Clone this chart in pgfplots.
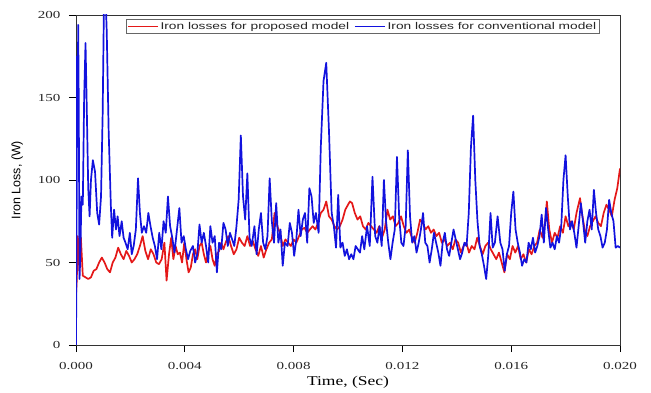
\documentclass[border=0pt]{standalone}
\usepackage{pgfplots}
\pgfplotsset{compat=1.18}
\usepackage{pgfplotstable}
\usepackage{fontspec}
\setmainfont{Liberation Serif}
\setsansfont{Liberation Sans}
\newfontfamily\tickfont[FakeStretch=1.4]{Liberation Serif}
\newfontfamily\xlabfont[FakeStretch=1.3]{Liberation Serif}
\newfontfamily\legfont[FakeStretch=1.4]{Liberation Sans}

\definecolor{lossred}{RGB}{228,24,24}
\definecolor{lossblue}{RGB}{18,18,222}

% time t in ms, iron loss v in W
\pgfplotstableread{
t v
0.00 30
0.03 40
0.06 66
0.09 62
0.12 45
0.18 65
0.25 42
0.35 41
0.45 40
0.55 41
0.65 45
0.75 46
0.85 50
0.95 53
1.05 50
1.15 46
1.25 44
1.35 50
1.45 53
1.55 59
1.65 55
1.75 52
1.85 57
1.95 54
2.05 50
2.15 52
2.25 55
2.35 60
2.45 66
2.55 57
2.65 52
2.75 58
2.85 55
2.95 50
3.05 49
3.15 52
3.25 62
3.33 39
3.42 55
3.50 65
3.58 52
3.66 60
3.74 55
3.82 56
3.90 50
3.98 62
4.06 52
4.14 44
4.22 47
4.30 55
4.38 58
4.46 52
4.54 60
4.62 62
4.70 55
4.78 50
4.86 56
4.94 60
5.02 52
5.10 48
5.18 55
5.26 57
5.34 62
5.42 58
5.50 62
5.60 66
5.70 60
5.80 55
5.90 58
6.00 65
6.10 62
6.20 60
6.30 66
6.40 60
6.50 63
6.60 58
6.70 54
6.80 60
6.90 53
7.00 58
7.10 62
7.20 64
7.30 80
7.40 72
7.50 68
7.60 60
7.70 64
7.80 62
7.90 60
8.00 64
8.10 62
8.20 66
8.30 70
8.40 71
8.50 68
8.60 70
8.70 72
8.80 70
8.90 74
9.00 80
9.10 82
9.20 87
9.30 78
9.40 76
9.50 72
9.60 70
9.70 72
9.80 76
9.90 82
10.00 85
10.07 87
10.15 86
10.25 80
10.35 76
10.45 78
10.55 72
10.65 70
10.75 74
10.85 72
10.95 70
11.05 68
11.15 72
11.25 65
11.35 70
11.45 82
11.55 76
11.65 78
11.75 72
11.85 74
11.95 78
12.05 72
12.15 68
12.25 70
12.35 65
12.45 62
12.55 68
12.65 76
12.75 74
12.85 70
12.95 72
13.05 68
13.15 70
13.25 66
13.35 68
13.45 62
13.55 64
13.65 60
13.75 62
13.85 58
13.95 64
14.05 62
14.15 56
14.25 60
14.35 62
14.45 56
14.55 60
14.65 58
14.75 65
14.85 60
14.95 55
15.05 60
15.15 62
15.25 58
15.35 55
15.45 52
15.55 56
15.65 50
15.75 44
15.85 55
15.95 52
16.05 60
16.15 56
16.25 60
16.35 52
16.45 55
16.55 50
16.65 58
16.75 55
16.85 60
16.95 62
17.05 70
17.15 65
17.25 75
17.31 87
17.40 70
17.50 62
17.60 68
17.70 65
17.80 72
17.90 68
18.00 78
18.10 72
18.20 75
18.30 70
18.40 80
18.53 89
18.60 80
18.70 70
18.80 66
18.90 72
19.00 75
19.10 78
19.20 74
19.30 72
19.40 80
19.50 85
19.60 82
19.70 78
19.80 88
19.90 95
20.00 107
}\proposed

\pgfplotstableread{
t v
0.00 0
0.02 60
0.04 175
0.06 120
0.08 194
0.10 150
0.13 40
0.16 55
0.20 90
0.25 85
0.30 150
0.35 183
0.40 140
0.45 95
0.50 78
0.55 100
0.62 112
0.70 105
0.78 80
0.85 73
0.92 90
0.98 140
1.03 210
1.08 215
1.13 190
1.20 130
1.28 85
1.33 65
1.40 82
1.47 70
1.53 78
1.60 66
1.68 75
1.75 65
1.82 62
1.90 58
1.98 68
2.05 55
2.12 60
2.20 70
2.28 101
2.35 80
2.42 68
2.50 72
2.58 68
2.66 80
2.74 72
2.82 65
2.90 60
2.98 52
3.06 68
3.14 58
3.22 75
3.30 68
3.38 90
3.46 72
3.54 65
3.62 56
3.70 68
3.80 83
3.88 62
3.96 66
4.04 58
4.12 52
4.20 57
4.30 60
4.38 50
4.46 55
4.54 73
4.62 62
4.70 68
4.78 60
4.86 50
4.94 72
5.02 62
5.10 66
5.18 44
5.26 62
5.34 58
5.42 74
5.50 70
5.58 60
5.66 68
5.74 64
5.82 60
5.90 72
5.98 88
6.06 127
6.14 90
6.22 76
6.30 104
6.38 65
6.46 60
6.56 72
6.64 55
6.72 70
6.80 80
6.88 62
6.96 58
7.04 66
7.12 101
7.20 75
7.28 62
7.36 86
7.44 62
7.52 70
7.60 48
7.68 62
7.78 60
7.86 74
7.94 68
8.02 54
8.10 64
8.18 82
8.26 66
8.34 76
8.42 80
8.50 62
8.58 95
8.66 90
8.74 74
8.82 80
8.92 68
9.00 120
9.10 160
9.20 171
9.30 130
9.40 80
9.48 72
9.56 59
9.64 91
9.72 59
9.80 62
9.88 54
9.96 58
10.04 52
10.12 55
10.20 52
10.28 60
10.36 58
10.44 56
10.52 66
10.60 58
10.70 72
10.80 60
10.90 102
11.00 66
11.08 62
11.16 72
11.24 60
11.32 100
11.40 75
11.48 62
11.56 52
11.64 62
11.72 70
11.80 114
11.88 78
11.96 62
12.04 60
12.12 72
12.20 118
12.28 78
12.36 62
12.44 66
12.52 56
12.60 62
12.68 70
12.76 80
12.84 62
12.92 60
13.00 50
13.08 58
13.16 68
13.24 62
13.32 56
13.40 48
13.48 62
13.56 68
13.64 58
13.72 54
13.80 62
13.88 70
13.96 64
14.04 58
14.12 52
14.20 56
14.28 62
14.36 60
14.44 80
14.52 120
14.60 139
14.68 100
14.76 75
14.84 60
14.92 55
15.00 48
15.08 40
15.16 55
15.24 80
15.32 59
15.40 62
15.50 78
15.60 62
15.68 58
15.76 45
15.84 55
15.92 60
16.00 80
16.08 93
16.16 70
16.24 62
16.32 56
16.40 48
16.48 52
16.56 50
16.64 62
16.72 58
16.80 65
16.88 56
16.96 60
17.04 66
17.12 79
17.20 62
17.28 83
17.36 70
17.44 59
17.52 62
17.60 58
17.68 66
17.76 62
17.84 72
17.92 100
18.00 115
18.08 90
18.16 70
18.24 75
18.32 68
18.40 59
18.48 72
18.56 86
18.64 75
18.72 62
18.80 75
18.88 82
18.96 70
19.04 94
19.12 80
19.20 70
19.28 66
19.36 59
19.44 62
19.52 70
19.60 88
19.68 80
19.76 75
19.84 59
19.92 60
20.00 59
}\conventional

\begin{document}
\begin{tikzpicture}
\useasboundingbox (0bp,0bp) rectangle (651bp,393bp);
\begin{axis}[
  at={(76bp,48bp)}, anchor=south west,
  scale only axis, width=544bp, height=330bp,
  xmin=0, xmax=0.02, ymin=0, ymax=200,
  xtick={0,0.004,0.008,0.012,0.016,0.02},
  ytick={0,50,100,150,200},
  scaled x ticks=false,
  xticklabel style={yshift=-7bp, /pgf/number format/.cd, fixed, fixed zerofill, precision=3},
  yticklabel style={xshift=-5bp},
  /pgf/number format/assume math mode=true,
  tick label style={font=\tickfont\fontsize{10.8}{12}\selectfont, text=black!85},
  tick align=outside, xtick pos=bottom, ytick pos=left,
  major tick length=7bp,
  tick style={black, line width=0.8bp},
  axis line style={black!80, line width=0.9bp},
  xlabel={\xlabfont\fontsize{13.5}{14}\selectfont Time, (Sec)},
  ylabel={\sffamily\fontsize{12.5}{13}\selectfont Iron Loss, (W)},
  xlabel style={yshift=1bp},
  ylabel style={yshift=8bp},
  legend columns=2,
  legend style={at={(0.092,0.988)}, anchor=north west, draw=black!60,
    line width=0.6bp, inner sep=1bp, outer sep=0pt,
    font=\legfont\fontsize{9.85}{10}\selectfont, text=black!85,
    /tikz/every even column/.append style={column sep=3bp}},
  legend image code/.code={\draw[#1, line width=1.5bp] (0bp,0bp) -- (30bp,0bp);},
]
\addplot[lossred, line width=1.7bp, line join=round] table[x expr=\thisrow{t}/1000, y=v] {\proposed};
\addlegendentry{Iron losses for proposed model}
\addplot[lossblue, line width=1.7bp, line join=round] table[x expr=\thisrow{t}/1000, y=v] {\conventional};
\addlegendentry{Iron losses for conventional model}
\end{axis}
\end{tikzpicture}
\end{document}
